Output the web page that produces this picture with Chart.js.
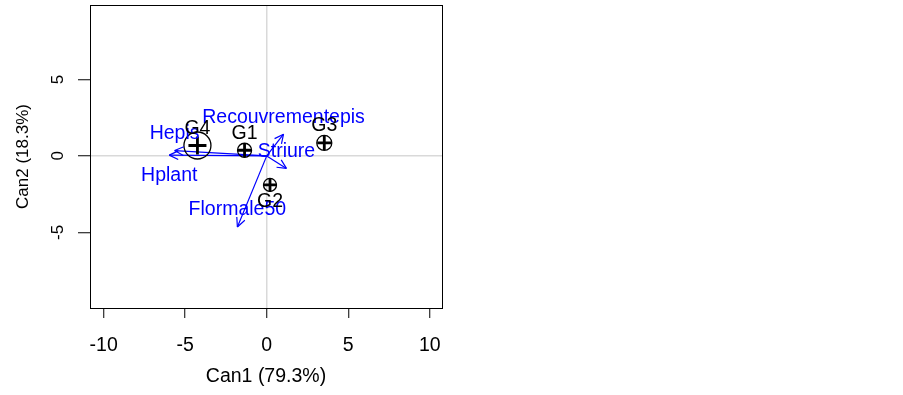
<!DOCTYPE html>
<html>
<head>
<meta charset="utf-8">
<script src="https://cdn.jsdelivr.net/npm/chart.js@4"></script>
<style>
  html, body { margin: 0; padding: 0; background: #fff; }
  #wrap { width: 903px; height: 395px; }
</style>
</head>
<body>
<div id="wrap"><canvas id="canPlot" width="903" height="395"></canvas></div>
<script>
// group means (canonical scores)
const groups = ["G1", "G2", "G3", "G4"];
const groupCan1 = [-1.36, 0.2, 3.53, -4.25];
const groupCan2 = [0.37, -1.9, 0.85, 0.68];

// structure vectors of the variables
const vars = ["Recouvrementepis", "Striure", "Flormale50", "Hplant", "Hepis"];
const varCan1 = [1.03, 1.21, -1.8, -5.98, -5.65];
const varCan2 = [1.42, -0.82, -4.65, 0.05, 0.35];

const xTicks = [-10, -5, 0, 5, 10];
const yTicks = [-5, 0, 5];

// look
const BLUE = "#0000ff";
const circleR = [7, 6.5, 7.5, 13.5];
const crossR = [7, 7, 7, 9];
const groupBelow = [false, true, false, false];
const varBelow = [false, false, false, true, false];
const FONT = "'Liberation Sans', Arial, sans-serif";

Chart.defaults.font.family = FONT;
Chart.defaults.color = "#000";

const groupPts = groups.map((g, i) => ({ x: groupCan1[i], y: groupCan2[i] }));

const datasets = [
  {
    label: "means",
    data: groupPts,
    pointStyle: "cross",
    pointRadius: crossR,
    borderColor: "#000",
    borderWidth: 2.8,
    showLine: false
  },
  {
    label: "circles",
    data: groupPts,
    pointStyle: "circle",
    pointRadius: circleR,
    borderColor: "#000",
    backgroundColor: "rgba(0,0,0,0)",
    borderWidth: 1.3,
    showLine: false
  }
];
vars.forEach((v, i) => {
  datasets.push({
    label: v,
    data: [{ x: 0, y: 0 }, { x: varCan1[i], y: varCan2[i] }],
    showLine: true,
    borderColor: BLUE,
    borderWidth: 1.2,
    pointRadius: 0
  });
});

const extras = {
  id: "extras",
  afterDatasetsDraw(chart) {
    const ctx = chart.ctx;
    ctx.save();
    // arrow heads
    ctx.strokeStyle = BLUE;
    ctx.lineWidth = 1.2;
    vars.forEach((v, i) => {
      const pts = chart.getDatasetMeta(i + 2).data;
      const x0 = pts[0].x, y0 = pts[0].y, x1 = pts[1].x, y1 = pts[1].y;
      const a = Math.atan2(y1 - y0, x1 - x0);
      ctx.beginPath();
      [-1, 1].forEach(s => {
        ctx.moveTo(x1, y1);
        ctx.lineTo(x1 - 10 * Math.cos(a + s * 0.45), y1 - 10 * Math.sin(a + s * 0.45));
      });
      ctx.stroke();
    });
    ctx.textAlign = "center";
    ctx.textBaseline = "middle";
    ctx.font = "19.5px " + FONT;
    // variable names
    ctx.fillStyle = BLUE;
    vars.forEach((v, i) => {
      const p = chart.getDatasetMeta(i + 2).data[1];
      ctx.fillText(v, p.x, p.y + (varBelow[i] ? 21 : -17));
    });
    // group names
    ctx.fillStyle = "#000";
    const meta = chart.getDatasetMeta(0).data;
    groups.forEach((g, i) => {
      ctx.fillText(g, meta[i].x, meta[i].y + (groupBelow[i] ? 17 : -17));
    });
    ctx.restore();
  },
  afterDraw(chart) {
    const { ctx, chartArea: a } = chart;
    ctx.save();
    ctx.strokeStyle = "#000";
    ctx.lineWidth = 1;
    ctx.strokeRect(a.left + 0.5, a.top + 0.5, a.right - a.left, a.bottom - a.top);
    ctx.restore();
  }
};

const zeroGrid = {
  color: c => (c.tick && c.tick.value === 0 ? "#d9d9d9" : "rgba(0,0,0,0)"),
  lineWidth: 1.5,
  tickColor: "#000",
  tickWidth: 1
};

new Chart(document.getElementById("canPlot"), {
  type: "scatter",
  data: { datasets },
  plugins: [extras],
  options: {
    responsive: false,
    animation: false,
    layout: { autoPadding: false, padding: { top: 5, right: 461, left: 0, bottom: 0 } },
    plugins: { legend: { display: false }, tooltip: { enabled: false } },
    scales: {
      x: {
        min: -10.84,
        max: 10.75,
        afterBuildTicks: s => { s.ticks = xTicks.map(v => ({ value: v })); },
        afterFit: s => { s.height = 87; s.paddingLeft = 0; s.paddingRight = 0; },
        grid: Object.assign({ tickLength: 10 }, zeroGrid),
        border: { display: false },
        ticks: { font: { size: 19.5 }, padding: 16, maxRotation: 0 },
        title: { display: true, text: "Can1 (79.3%)", font: { size: 19.5 }, padding: { top: 0, bottom: 6.3 } }
      },
      y: {
        min: -9.95,
        max: 9.87,
        afterBuildTicks: s => { s.ticks = yTicks.map(v => ({ value: v })); },
        afterFit: s => { s.width = 90; s.paddingTop = 0; s.paddingBottom = 0; },
        grid: Object.assign({ tickLength: 12 }, zeroGrid),
        border: { display: false },
        ticks: { font: { size: 17 }, padding: 12.5, minRotation: 90, maxRotation: 90, crossAlign: "center" },
        title: { display: true, text: "Can2 (18.3%)", font: { size: 17 }, padding: { top: 13.5, bottom: 0 } }
      }
    }
  }
});
</script>
</body>
</html>
